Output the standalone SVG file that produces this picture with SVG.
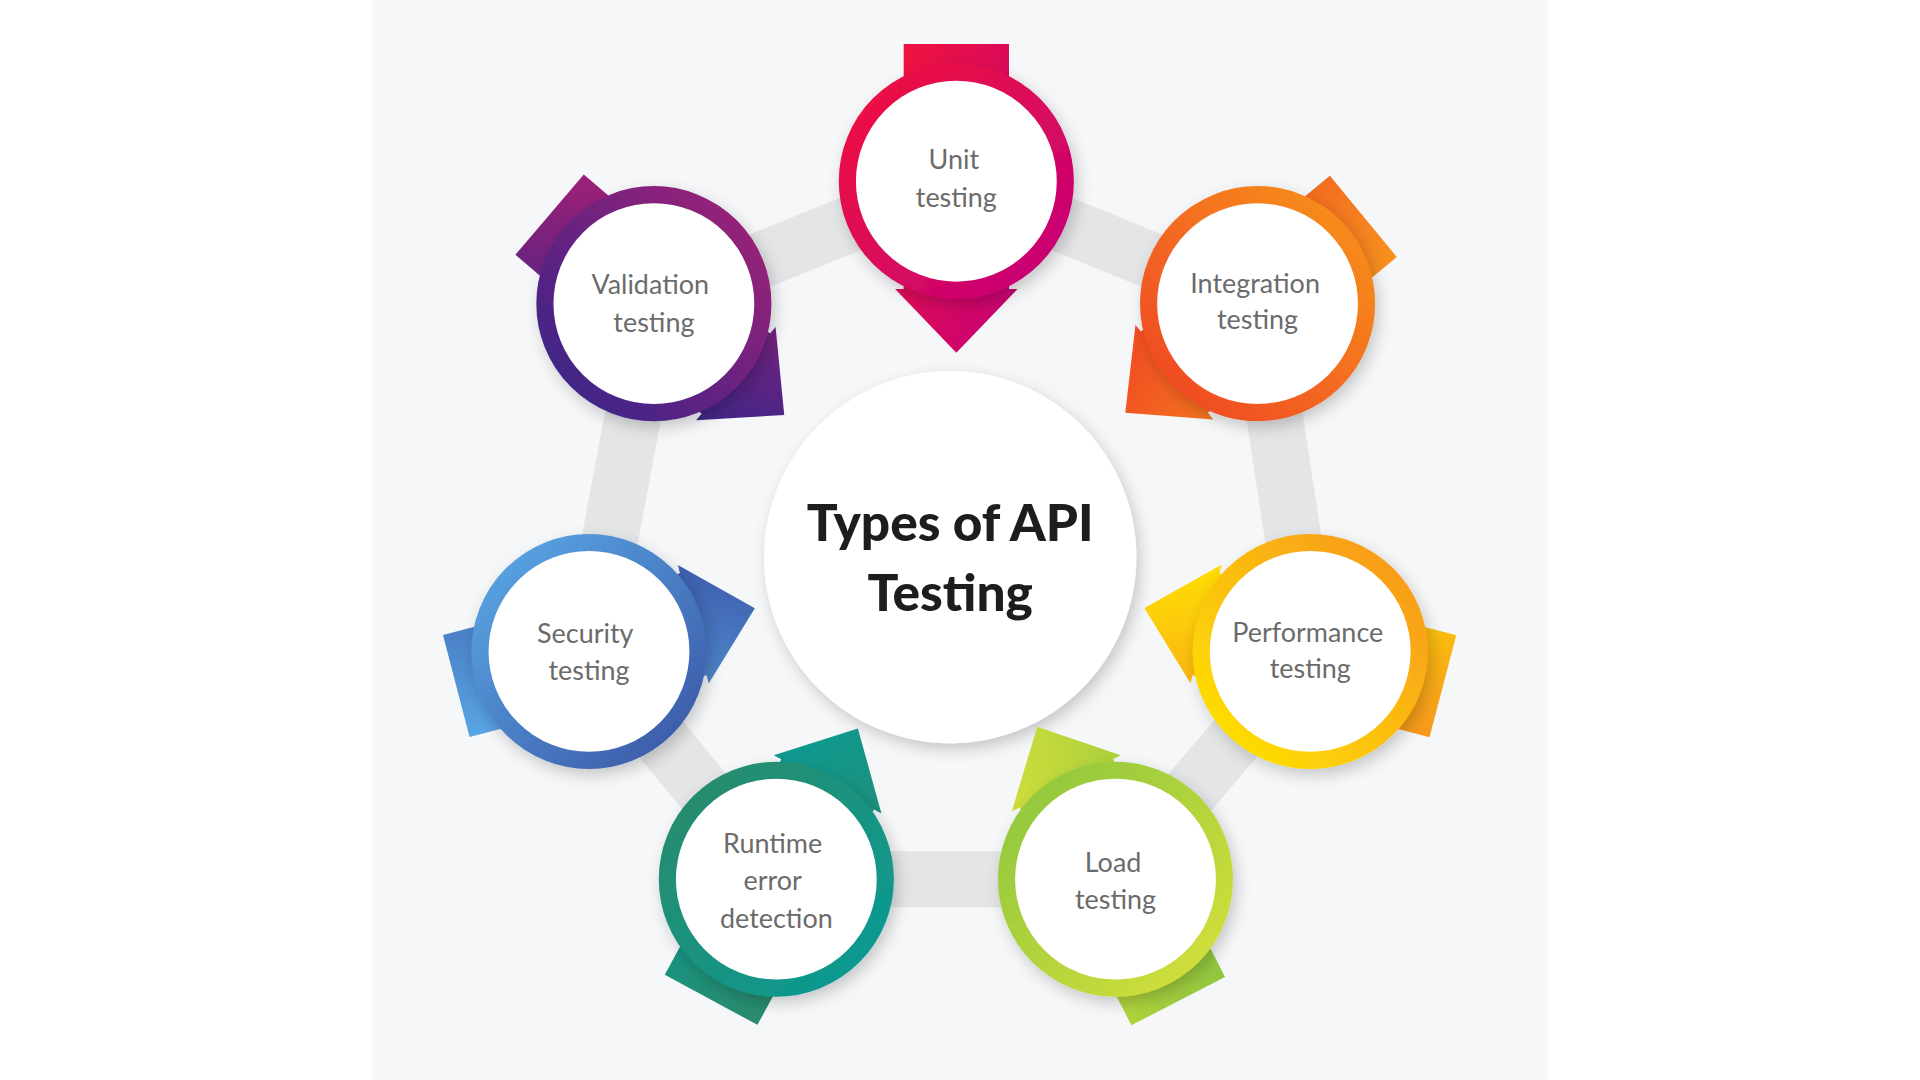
<svg xmlns="http://www.w3.org/2000/svg" width="1920" height="1080" viewBox="0 0 1920 1080">
<defs>
<style>
.lbl{font-family:Lato,"Open Sans",sans-serif;font-size:22px;fill:#6b6b6b;text-anchor:middle}
.ttl{font-family:Lato,"Open Sans",sans-serif;font-size:42px;font-weight:900;fill:#1d1d1d;text-anchor:middle}
.band{stroke:#e3e5e6;stroke-width:46;fill:none;stroke-linejoin:round}
.inner{fill:#fff}
</style>
<filter id="sh" x="-30%" y="-30%" width="160%" height="160%"><feDropShadow dx="3" dy="5" stdDeviation="6" flood-color="#000" flood-opacity="0.2"/></filter>
<linearGradient id="g1" x1="0" y1="0" x2="1" y2="1"><stop offset="0" stop-color="#f0143c"/><stop offset="1" stop-color="#c4007a"/></linearGradient>
<linearGradient id="g2" x1="0" y1="1" x2="1" y2="0"><stop offset="0" stop-color="#ef4323"/><stop offset="1" stop-color="#f7941d"/></linearGradient>
<linearGradient id="g3" x1="0" y1="1" x2="1" y2="0"><stop offset="0" stop-color="#ffe600"/><stop offset="1" stop-color="#f7941d"/></linearGradient>
<linearGradient id="g4" x1="0" y1="0" x2="1" y2="1"><stop offset="0" stop-color="#8cc63f"/><stop offset="1" stop-color="#d7e03a"/></linearGradient>
<linearGradient id="g5" x1="0" y1="0" x2="1" y2="1"><stop offset="0" stop-color="#2a8a6a"/><stop offset="1" stop-color="#0a9b95"/></linearGradient>
<linearGradient id="g6" x1="0" y1="0" x2="1" y2="1"><stop offset="0" stop-color="#5aa9e6"/><stop offset="1" stop-color="#3a55a5"/></linearGradient>
<linearGradient id="g7" x1="0" y1="1" x2="1" y2="0"><stop offset="0" stop-color="#34268a"/><stop offset="1" stop-color="#a21f76"/></linearGradient>
</defs>
<rect width="1920" height="1080" fill="#ffffff"/>
<g transform="scale(1.2245)">
<rect x="304" y="0" width="960" height="882" fill="#f5f7f9"/>
<g id="connectors">
<polygon class="band" points="781,148 1027,248 1070,532 911,718 634,718 481,532 534,248"/>
</g>
<g id="center" filter="url(#sh)">
<circle cx="776" cy="455" r="152" fill="#fff"/>
</g>
<g id="title">
<text class="ttl" x="776" y="442">Types of API</text>
<text class="ttl" x="776" y="499">Testing</text>
</g>
<g id="unit">
<g transform="translate(781,148) rotate(0)"><polygon points="-43,-112 43,-112 43,88 50,88 0,140 -50,88 -43,88" fill="url(#g1)"/></g>
<circle cx="781" cy="148" r="89" fill="#fff" stroke="url(#g1)" stroke-width="14" filter="url(#sh)"/>
<text class="lbl" x="779" y="138">Unit</text><text class="lbl" x="781" y="169">testing</text>
</g>
<g id="integration">
<g transform="translate(1027,248) rotate(50.5)"><polygon points="-43,-112 43,-112 43,88 50,88 0,140 -50,88 -43,88" fill="url(#g2)"/></g>
<circle cx="1027" cy="248" r="89" fill="#fff" stroke="url(#g2)" stroke-width="14" filter="url(#sh)"/>
<text class="lbl" x="1025" y="239">Integration</text><text class="lbl" x="1027" y="269">testing</text>
</g>
<g id="performance">
<g transform="translate(1070,532) rotate(104.7)"><polygon points="-43,-112 43,-112 43,88 50,88 0,140 -50,88 -43,88" fill="url(#g3)"/></g>
<circle cx="1070" cy="532" r="89" fill="#fff" stroke="url(#g3)" stroke-width="14" filter="url(#sh)"/>
<text class="lbl" x="1068" y="524">Performance</text><text class="lbl" x="1070" y="554">testing</text>
</g>
<g id="load">
<g transform="translate(911,718) rotate(152.8)"><polygon points="-43,-112 43,-112 43,88 50,88 0,140 -50,88 -43,88" fill="url(#g4)"/></g>
<circle cx="911" cy="718" r="89" fill="#fff" stroke="url(#g4)" stroke-width="14" filter="url(#sh)"/>
<text class="lbl" x="909" y="712">Load</text><text class="lbl" x="911" y="742">testing</text>
</g>
<g id="runtime">
<g transform="translate(634,718) rotate(208.4)"><polygon points="-43,-112 43,-112 43,88 50,88 0,140 -50,88 -43,88" fill="url(#g5)"/></g>
<circle cx="634" cy="718" r="89" fill="#fff" stroke="url(#g5)" stroke-width="14" filter="url(#sh)"/>
<text class="lbl" x="631" y="697">Runtime</text><text class="lbl" x="631" y="727">error</text><text class="lbl" x="634" y="758">detection</text>
</g>
<g id="security">
<g transform="translate(481,532) rotate(255.4)"><polygon points="-43,-112 43,-112 43,88 50,88 0,140 -50,88 -43,88" fill="url(#g6)"/></g>
<circle cx="481" cy="532" r="89" fill="#fff" stroke="url(#g6)" stroke-width="14" filter="url(#sh)"/>
<text class="lbl" x="478" y="525">Security</text><text class="lbl" x="481" y="555">testing</text>
</g>
<g id="validation">
<g transform="translate(534,248) rotate(310.5)"><polygon points="-43,-112 43,-112 43,88 50,88 0,140 -50,88 -43,88" fill="url(#g7)"/></g>
<circle cx="534" cy="248" r="89" fill="#fff" stroke="url(#g7)" stroke-width="14" filter="url(#sh)"/>
<text class="lbl" x="531" y="240">Validation</text><text class="lbl" x="534" y="271">testing</text>
</g>
</g>
</svg>
